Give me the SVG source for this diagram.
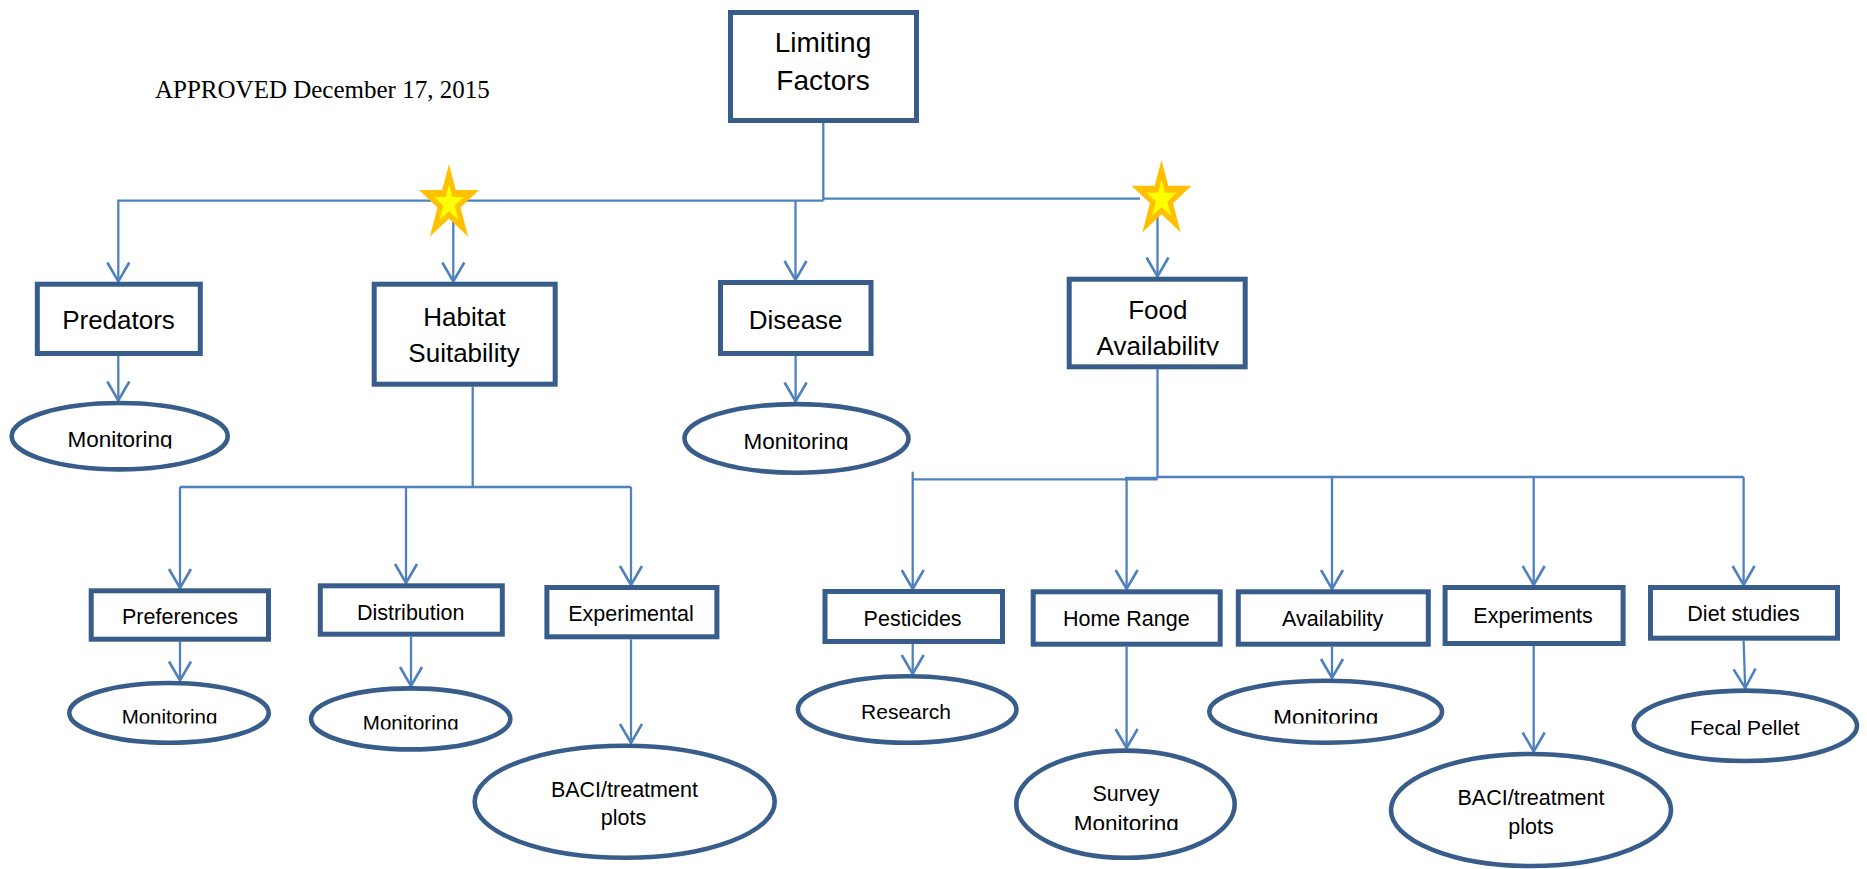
<svg xmlns="http://www.w3.org/2000/svg" xmlns:xlink="http://www.w3.org/1999/xlink" width="1867" height="869" viewBox="0 0 1867 869">
<style>
.box{fill:#fff;stroke:#385D8A;stroke-width:5}
.ell{fill:#fff;stroke:#385D8A;stroke-width:4.6}
.t{font-family:"Liberation Sans",Arial,sans-serif;fill:#000;text-anchor:middle}
.l1{font-size:28px}
.l2{font-size:26px}
.l3{font-size:21.5px}
.e1{font-size:22.5px}
.e2{font-size:20.5px}
.e3{font-size:21px}
.e4{font-size:21.5px}
.con path{fill:none;stroke:#4F81BD;stroke-width:2.3}
.date{font-family:"Liberation Serif","Times New Roman",serif;font-size:25px;fill:#000}
</style>
<defs>
<marker id="arr" markerUnits="userSpaceOnUse" markerWidth="26" markerHeight="28" viewBox="-3 -14 26 28" refX="19" refY="0" orient="auto" overflow="visible">
<path d="M0,-11 L19,0 L0,11" fill="none" stroke="#4F81BD" stroke-width="2.6"/>
</marker>
<path id="star" d="M0,-39.7 L6.8,-14 L30,-14 L11.5,3.6 L19.2,32.7 L0,14.5 L-19.2,32.7 L-11.5,3.6 L-30,-14 L-6.8,-14 Z"/>
<clipPath id="cPred"><rect x="0" y="395" width="240" height="53.5"/></clipPath>
<clipPath id="cDis"><rect x="680" y="395" width="235" height="55"/></clipPath>
<clipPath id="cFood"><rect x="1070" y="330" width="175" height="25.5"/></clipPath>
<clipPath id="cPref"><rect x="67" y="690" width="205" height="33.5"/></clipPath>
<clipPath id="cDist"><rect x="309" y="695" width="204" height="34.5"/></clipPath>
<clipPath id="cAvl"><rect x="1207" y="690" width="238" height="33.5"/></clipPath>
<clipPath id="cSurv"><rect x="1014" y="805" width="223" height="25"/></clipPath>
</defs>
<rect width="1867" height="869" fill="#fff"/>

<text class="date" x="155" y="98">APPROVED December 17, 2015</text>

<g id="connectors" class="con">
<path d="M823.3,123 V200.7"/>
<path d="M823.3,200.7 H118.3 V281.5" marker-end="url(#arr)"/>
<path d="M453.3,220 V281.5" marker-end="url(#arr)"/>
<path d="M795.5,200.7 V280" marker-end="url(#arr)"/>
<path d="M823.3,198.7 H1140"/>
<path d="M1157.5,215 V276.5" marker-end="url(#arr)"/>
<path d="M118.3,356 V400.5" marker-end="url(#arr)"/>
<path d="M795.6,356 V401.5" marker-end="url(#arr)"/>
<path d="M472.7,386.7 V487"/>
<path d="M180,487 H631"/>
<path d="M180,487 V588" marker-end="url(#arr)"/>
<path d="M406,487 V583" marker-end="url(#arr)"/>
<path d="M631,487 V585" marker-end="url(#arr)"/>
<path d="M180,641.7 V680.5" marker-end="url(#arr)"/>
<path d="M411,636.7 V686" marker-end="url(#arr)"/>
<path d="M631,639.3 V743" marker-end="url(#arr)"/>
<path d="M1157.5,369.3 V478.3"/>
<path d="M912.7,479.3 H1157.5"/>
<path d="M1125,478.3 H1157.5" style="stroke-width:3"/>
<path d="M1157.5,477 H1743.6"/>
<path d="M912.7,471.7 V589" marker-end="url(#arr)"/>
<path d="M1126.6,478 V589" marker-end="url(#arr)"/>
<path d="M1332,477 V589" marker-end="url(#arr)"/>
<path d="M1533.7,477 V585" marker-end="url(#arr)"/>
<path d="M1743.6,477 V585" marker-end="url(#arr)"/>
<path d="M912.7,644 V674" marker-end="url(#arr)"/>
<path d="M1126.6,646.7 V748" marker-end="url(#arr)"/>
<path d="M1332,646.7 V678" marker-end="url(#arr)"/>
<path d="M1533.7,646 V751.5" marker-end="url(#arr)"/>
<path d="M1743.6,640.7 L1745.2,688" marker-end="url(#arr)"/>
</g>

<g id="stars">
<g id="star1">
<use xlink:href="#star" href="#star" transform="translate(449,204)" fill="#FFC000"/>
<use xlink:href="#star" href="#star" transform="translate(449,204) scale(0.5)" fill="#FFFF00"/>
</g>
<g id="star2">
<use xlink:href="#star" href="#star" transform="translate(1161.5,199.7)" fill="#FFC000"/>
<use xlink:href="#star" href="#star" transform="translate(1161.5,199.7) scale(0.5)" fill="#FFFF00"/>
</g>
</g>

<g id="limiting-factors">
<rect class="box" x="730.5" y="12.5" width="186" height="108"/>
<text class="t l1" x="823" y="51.7">Limiting</text>
<text class="t l1" x="823" y="89.5">Factors</text>
</g>

<g id="predators">
<rect class="box" x="37.3" y="284.2" width="163" height="69.3"/>
<text class="t l2" x="118.5" y="328.5">Predators</text>
</g>

<g id="habitat-suitability">
<rect class="box" x="374.2" y="284.2" width="181" height="100"/>
<text class="t l2" x="464.5" y="325.5">Habitat</text>
<text class="t l2" x="464" y="362">Suitability</text>
</g>

<g id="disease">
<rect class="box" x="720.5" y="282.5" width="150.5" height="71"/>
<text class="t l2" x="795.6" y="328.5">Disease</text>
</g>

<g id="food-availability">
<rect class="box" x="1069.2" y="279.2" width="176" height="87.6"/>
<text class="t l2" x="1157.8" y="318.5">Food</text>
<text class="t l2" x="1157.8" y="354.5" clip-path="url(#cFood)">Availability</text>
</g>

<g id="predators-monitoring">
<ellipse class="ell" cx="119.7" cy="436.2" rx="108" ry="33.2"/>
<text class="t e1" x="120" y="446.5" clip-path="url(#cPred)">Monitoring</text>
</g>

<g id="disease-monitoring">
<ellipse class="ell" cx="796.5" cy="438.4" rx="112" ry="34.3"/>
<text class="t e1" x="796" y="448.5" clip-path="url(#cDis)">Monitoring</text>
</g>

<g id="preferences">
<rect class="box" x="91.2" y="590.8" width="177.3" height="48.4"/>
<text class="t l3" x="180" y="624">Preferences</text>
</g>

<g id="distribution">
<rect class="box" x="320.3" y="585.8" width="182" height="48.4"/>
<text class="t l3" x="410.7" y="619.5">Distribution</text>
</g>

<g id="experimental">
<rect class="box" x="546.9" y="587.5" width="170" height="49.3"/>
<text class="t l3" x="631" y="621">Experimental</text>
</g>

<g id="pesticides">
<rect class="box" x="825" y="591.5" width="177.5" height="50"/>
<text class="t l3" x="912.6" y="626">Pesticides</text>
</g>

<g id="home-range">
<rect class="box" x="1033.2" y="591.8" width="187" height="52.4"/>
<text class="t l3" x="1126.3" y="626">Home Range</text>
</g>

<g id="availability">
<rect class="box" x="1238.3" y="591.8" width="190" height="52.4"/>
<text class="t l3" x="1332.6" y="626">Availability</text>
</g>

<g id="experiments">
<rect class="box" x="1445.1" y="587.5" width="178" height="56"/>
<text class="t l3" x="1533.1" y="622.7">Experiments</text>
</g>

<g id="diet-studies">
<rect class="box" x="1650.5" y="587.5" width="187" height="50.7"/>
<text class="t l3" x="1743.5" y="621">Diet studies</text>
</g>

<g id="preferences-monitoring">
<ellipse class="ell" cx="169" cy="712.9" rx="99.7" ry="29.9"/>
<text class="t e2" x="169.5" y="723.5" clip-path="url(#cPref)">Monitoring</text>
</g>

<g id="distribution-monitoring">
<ellipse class="ell" cx="410.7" cy="718.9" rx="99.6" ry="30.5"/>
<text class="t e2" x="410.7" y="729.5" clip-path="url(#cDist)">Monitoring</text>
</g>

<g id="baci-left">
<ellipse class="ell" cx="624.7" cy="801.7" rx="150" ry="56"/>
<text class="t e4" x="624.4" y="797">BACI/treatment</text>
<text class="t e4" x="623.5" y="825">plots</text>
</g>

<g id="research">
<ellipse class="ell" cx="907.2" cy="709.5" rx="109.3" ry="33.2"/>
<text class="t e3" x="906" y="719.3">Research</text>
</g>

<g id="survey-monitoring">
<ellipse class="ell" cx="1125.5" cy="804.2" rx="109.2" ry="53.6"/>
<text class="t e4" x="1126" y="800.7">Survey</text>
<text class="t e1" x="1126.3" y="831" clip-path="url(#cSurv)">Monitoring</text>
</g>

<g id="availability-monitoring">
<ellipse class="ell" cx="1325.7" cy="711.7" rx="116.4" ry="31"/>
<text class="t e1" x="1325.7" y="724.5" clip-path="url(#cAvl)">Monitoring</text>
</g>

<g id="baci-right">
<ellipse class="ell" cx="1531" cy="810" rx="140" ry="56"/>
<text class="t e4" x="1531" y="805">BACI/treatment</text>
<text class="t e4" x="1531" y="834">plots</text>
</g>

<g id="fecal-pellet">
<ellipse class="ell" cx="1745.4" cy="725.8" rx="111.6" ry="35.2"/>
<text class="t e3" x="1744.8" y="735">Fecal Pellet</text>
</g>
</svg>
